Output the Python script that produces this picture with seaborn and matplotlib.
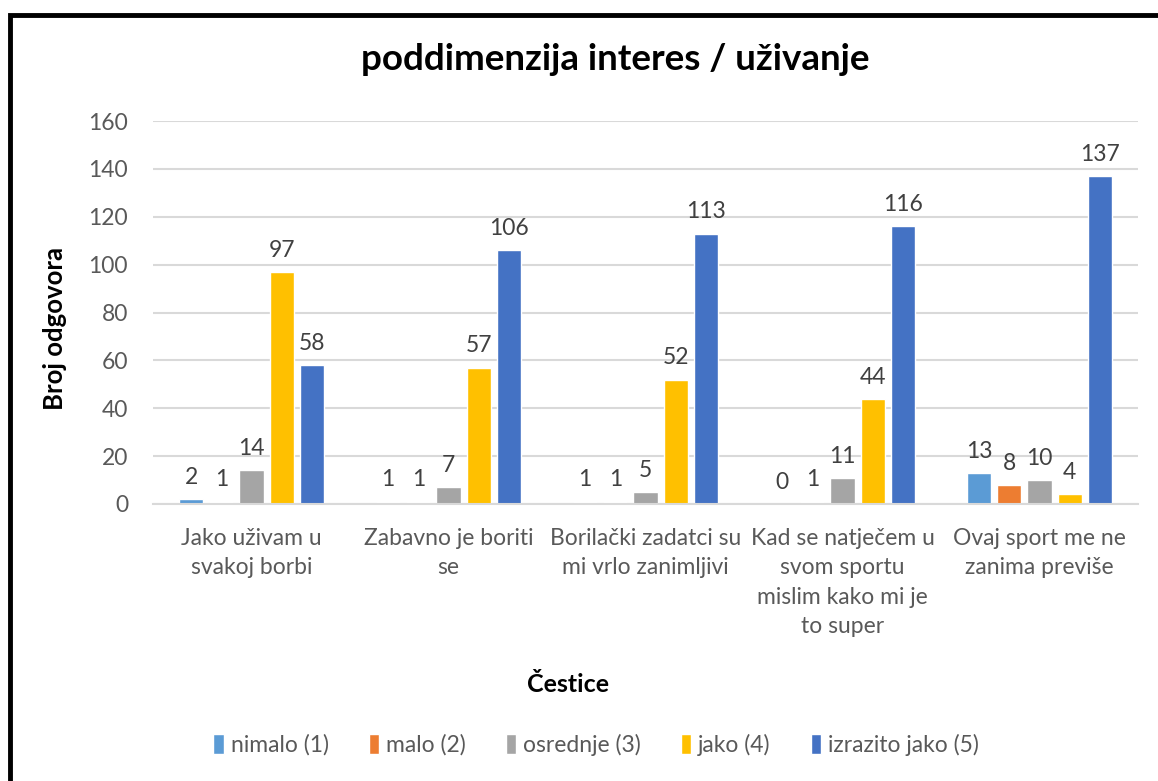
import matplotlib
matplotlib.use("Agg")
import matplotlib.pyplot as plt
import matplotlib.patches as mpatches
import seaborn as sns
import pandas as pd

categories = [
    "Jako uživam u\nsvakoj borbi",
    "Zabavno je boriti\nse",
    "Borilački zadatci su\nmi vrlo zanimljivi",
    "Kad se natječem u\nsvom sportu\nmislim kako mi je\nto super",
    "Ovaj sport me ne\nzanima previše",
]
series_names = ["nimalo (1)", "malo (2)", "osrednje (3)", "jako (4)", "izrazito jako (5)"]
nimalo = [2, 1, 1, 0, 13]
malo = [1, 1, 1, 1, 8]
osrednje = [14, 7, 5, 11, 10]
jako = [97, 57, 52, 44, 4]
izrazito = [58, 106, 113, 116, 137]
colors = ["#5B9BD5", "#ED7D31", "#A5A5A5", "#FFC000", "#4472C4"]

rows = []
for name, vals in zip(series_names, [nimalo, malo, osrednje, jako, izrazito]):
    for c, v in zip(categories, vals):
        rows.append({"cat": c, "series": name, "value": v})
df = pd.DataFrame(rows)

sns.set_theme(style="white")
plt.rcParams["font.family"] = ["Lato", "DejaVu Sans"]

fig = plt.figure(figsize=(11.58, 7.81), dpi=100)
ax = fig.add_axes([153 / 1158, 1 - 504 / 781, 985 / 1158, (504 - 121) / 781])

sns.barplot(data=df, x="cat", y="value", hue="series", order=categories,
            hue_order=series_names, palette=colors, width=0.767, gap=0.2,
            saturation=1, ax=ax, legend=True)

for cont in ax.containers:
    ax.bar_label(cont, padding=8, fontsize=16.5, color="#404040")

ax.set_ylim(0, 160)
ax.set_yticks(range(0, 161, 20))
ax.yaxis.grid(True, color="#D9D9D9", linewidth=1.5)
ax.set_axisbelow(True)
for s in ["top", "right", "left"]:
    ax.spines[s].set_visible(False)
ax.spines["bottom"].set_color("#D9D9D9")
ax.spines["bottom"].set_linewidth(1.5)
ax.tick_params(axis="y", length=0, pad=18, labelsize=16.5, labelcolor="#595959")
ax.tick_params(axis="x", length=0, pad=17.5, labelsize=16.5, labelcolor="#595959")
for lbl in ax.get_xticklabels():
    lbl.set_linespacing(1.48)

ax.set_xlabel("")
ax.set_ylabel("")
fig.text(55 / 1158, 1 - 328 / 781, "Broj odgovora", rotation=90, ha="center", va="center",
         fontsize=18.5, fontweight="bold", color="#000000")
fig.text(568 / 1158, 1 - 684 / 781, "Čestice", ha="center", va="center",
         fontsize=18, fontweight="bold", color="#000000")
fig.text(615 / 1158, 1 - 60 / 781, "poddimenzija interes / uživanje", ha="center", va="center",
         fontsize=26.5, fontweight="bold", color="#000000")

handles, labels = ax.get_legend_handles_labels()
ax.legend_.remove()
fig.legend(handles, labels, loc="center", bbox_to_anchor=(596 / 1158, 1 - 745 / 781),
           ncol=5, frameon=False, fontsize=16.5, handlelength=0.45, handleheight=1.0,
           handletextpad=0.3, columnspacing=1.75, labelcolor="#595959")

fig.patches.append(mpatches.Rectangle((10 / 1158, -0.2), 1.2, 1 - 15 / 781 + 0.2,
                                      transform=fig.transFigure, fill=False,
                                      edgecolor="black", linewidth=3.5))

fig.savefig("out.png", dpi=100)
